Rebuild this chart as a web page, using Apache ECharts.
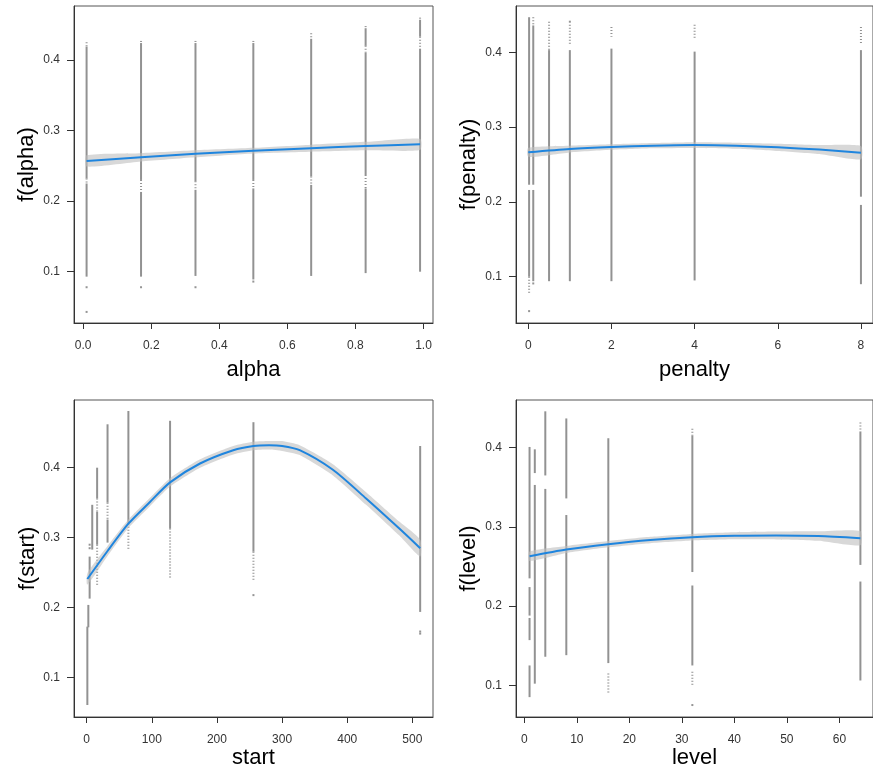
<!DOCTYPE html>
<html><head><meta charset="utf-8">
<script src="https://cdn.jsdelivr.net/npm/echarts@6/dist/echarts.min.js"></script>
<style>html,body{margin:0;padding:0;background:#fff}#c{width:873px;height:772px}</style>
</head><body><div id="c"></div>
<script>
// ---------- Panel 1: alpha ----------
const alphaDense = [
  [0.01,0.419,0.232],[0.01,0.225,0.093],
  [0.17,0.424,0.230],[0.17,0.213,0.093],
  [0.33,0.424,0.228],[0.33,0.216,0.094],
  [0.50,0.424,0.230],[0.50,0.218,0.089],
  [0.67,0.430,0.235],[0.67,0.223,0.094],
  [0.83,0.445,0.420],[0.83,0.410,0.237],[0.83,0.218,0.098],
  [0.99,0.457,0.433],[0.99,0.416,0.100]
];
const alphaSparse = [
  [0.01,0.425,0.419],[0.01,0.232,0.225],
  [0.17,0.427,0.424],[0.17,0.230,0.213],
  [0.33,0.427,0.424],[0.33,0.228,0.216],
  [0.50,0.427,0.424],[0.50,0.230,0.218],
  [0.67,0.438,0.430],[0.67,0.235,0.223],
  [0.83,0.448,0.445],[0.83,0.420,0.410],[0.83,0.237,0.218],
  [0.99,0.460,0.457],[0.99,0.433,0.416]
];
const alphaIsolated = [[0.01,0.078],[0.01,0.043],[0.17,0.078],[0.33,0.078],[0.50,0.086]];
const alphaFitX  = [0.01,0.17,0.33,0.50,0.67,0.83,0.99];
const alphaFitY  = [0.257,0.262,0.267,0.2715,0.275,0.278,0.2805];
const alphaFitLo = [0.249,0.256,0.262,0.2675,0.270,0.272,0.2725];
const alphaFitHi = [0.265,0.268,0.272,0.2755,0.280,0.284,0.2885];
const alphaTicksX = [0,0.2,0.4,0.6,0.8,1.0];

// ---------- Panel 2: penalty ----------
const penaltyDense = [
  [0.02,0.447,0.223],[0.02,0.216,0.100],
  [0.12,0.436,0.223],[0.12,0.216,0.094],
  [0.5,0.403,0.094],
  [1,0.403,0.094],
  [2,0.405,0.094],
  [4,0.401,0.095],
  [8,0.403,0.207],[8,0.196,0.090]
];
const penaltySparse = [
  [0.02,0.100,0.076],
  [0.12,0.447,0.436],
  [0.5,0.441,0.403],
  [1,0.437,0.410],
  [2,0.434,0.421],
  [4,0.437,0.419],
  [8,0.434,0.412]
];
const penaltyIsolated = [[0.02,0.054],[1,0.441],[0.12,0.091]];
const penaltyFitX  = [0,1,2,3,4,5,6,7,8];
const penaltyFitY  = [0.2663,0.2707,0.2734,0.2752,0.2760,0.2752,0.2730,0.2700,0.2658];
const penaltyFitLo = [0.2603,0.2662,0.2697,0.2717,0.2722,0.2712,0.2682,0.2640,0.2568];
const penaltyFitHi = [0.2723,0.2752,0.2771,0.2787,0.2798,0.2792,0.2778,0.2760,0.2748];
const penaltyTicksX = [0,2,4,6,8];

// ---------- Panel 3: start ----------
const startDense = [
  [1,0.173,0.061],
  [2.5,0.204,0.172],
  [4.5,0.273,0.213],
  [8.5,0.347,0.283],
  [16,0.400,0.356],[16,0.337,0.290],
  [32,0.462,0.350],[32,0.326,0.293],
  [64,0.481,0.320],
  [128,0.467,0.313],
  [256,0.465,0.280],
  [512,0.431,0.194]
];
const startSparse = [
  [16,0.356,0.337],[16,0.290,0.232],
  [32,0.350,0.326],
  [64,0.320,0.283],
  [128,0.313,0.242],
  [256,0.280,0.240]
];
const startIsolated = [[4.5,0.285],[4.5,0.290],[256,0.218],[512,0.166],[512,0.163]];
const startFitX  = [1,32,64,96,128,174,225,256,280,300,327,378,429,480,512];
const startFitY  = [0.241,0.281,0.320,0.350,0.379,0.406,0.425,0.431,0.432,0.431,0.425,0.397,0.356,0.313,0.285];
const startFitLo = [0.233,0.274,0.314,0.344,0.373,0.400,0.419,0.425,0.426,0.424,0.418,0.389,0.347,0.303,0.273];
const startFitHi = [0.249,0.288,0.326,0.356,0.385,0.412,0.431,0.437,0.438,0.438,0.432,0.405,0.365,0.323,0.297];
const startTicksX = [0,100,200,300,400,500];

// ---------- Panel 4: level ----------
const levelDense = [
  [1,0.401,0.235],[1,0.224,0.188],[1,0.185,0.157],[1,0.125,0.085],
  [2,0.398,0.368],[2,0.353,0.102],
  [4,0.446,0.365],[4,0.348,0.136],
  [8,0.437,0.336],[8,0.315,0.138],
  [16,0.412,0.128],
  [32,0.415,0.243],[32,0.226,0.125],
  [64,0.420,0.252],[64,0.231,0.106]
];
const levelSparse = [
  [16,0.115,0.090],
  [32,0.424,0.415],[32,0.117,0.098],
  [64,0.432,0.420]
];
const levelIsolated = [[32,0.075]];
const levelFitX  = [1,8,16,24,32,40,48,56,64];
const levelFitY  = [0.263,0.2715,0.2782,0.2835,0.287,0.2888,0.2892,0.2885,0.2858];
const levelFitLo = [0.257,0.2670,0.2742,0.2795,0.2828,0.2843,0.2842,0.2825,0.2768];
const levelFitHi = [0.269,0.2760,0.2822,0.2875,0.2912,0.2933,0.2942,0.2945,0.2948];
const levelTicksX = [0,10,20,30,40,50,60];

const yTicks = [0.1,0.2,0.3,0.4];

const panels = [
  {name:'alpha', dense:alphaDense, sparse:alphaSparse, iso:alphaIsolated, fx:alphaFitX, fy:alphaFitY, lo:alphaFitLo, hi:alphaFitHi, ticks:alphaTicksX, fmt:v=>v.toFixed(1),
   grid:{left:74,top:6,width:359,height:317}, xmin:-0.027, xmax:1.028, ymin:0.0273, ymax:0.4765, nameGap:36, yNameGap:36},
  {name:'penalty', dense:penaltyDense, sparse:penaltySparse, iso:penaltyIsolated, fx:penaltyFitX, fy:penaltyFitY, lo:penaltyFitLo, hi:penaltyFitHi, ticks:penaltyTicksX, fmt:v=>String(v),
   grid:{left:516,top:6,width:358,height:317}, xmin:-0.295, xmax:8.29, ymin:0.0381, ymax:0.462, nameGap:36, yNameGap:36},
  {name:'start', dense:startDense, sparse:startSparse, iso:startIsolated, fx:startFitX, fy:startFitY, lo:startFitLo, hi:startFitHi, ticks:startTicksX, fmt:v=>String(v),
   grid:{left:74,top:400,width:359,height:317}, xmin:-19.5, xmax:531.7, ymin:0.0439, ymax:0.4967, nameGap:30, yNameGap:34},
  {name:'level', dense:levelDense, sparse:levelSparse, iso:levelIsolated, fx:levelFitX, fy:levelFitY, lo:levelFitLo, hi:levelFitHi, ticks:levelTicksX, fmt:v=>String(v),
   grid:{left:516,top:400,width:358,height:317}, xmin:-1.58, xmax:66.4, ymin:0.0599, ymax:0.4603, nameGap:30, yNameGap:36}
];

const FONT = 'Liberation Sans, Arial, sans-serif';
function segRenderer(dashed){
  return function(params, api){
    const p0 = api.coord([api.value(0), api.value(1)]);
    const p1 = api.coord([api.value(0), api.value(2)]);
    return {type:'line', shape:{x1:p0[0],y1:p0[1],x2:p1[0],y2:p1[1]},
      style:{stroke:'#929292', lineWidth:2, lineDash: dashed ? [1,2] : null}};
  };
}
function bandRenderer(p){
  return function(params, api){
    if (params.dataIndex !== 0) return null;
    const upper = p.fx.map((x,k)=>api.coord([x,p.hi[k]]));
    const lower = p.fx.map((x,k)=>api.coord([x,p.lo[k]])).reverse();
    return {type:'polygon', shape:{points:upper.concat(lower), smooth:0.2},
      style:{fill:'rgba(190,190,190,0.6)', stroke:null}};
  };
}

const grids=[], xAxes=[], yAxes=[], series=[];
panels.forEach((p,i)=>{
  grids.push(Object.assign({show:true, borderColor:'#555', borderWidth:1, backgroundColor:'transparent'}, p.grid));
  xAxes.push({type:'value', gridIndex:i, min:p.xmin, max:p.xmax,
    axisLine:{show:true,onZero:false,lineStyle:{color:'#333',width:1}},
    axisTick:{show:true,length:6,customValues:p.ticks,lineStyle:{color:'#333'}},
    axisLabel:{customValues:p.ticks,formatter:p.fmt,color:'#333',fontSize:12,margin:17,fontFamily:FONT},
    splitLine:{show:false},
    name:p.name, nameLocation:'middle', nameGap:p.nameGap,
    nameTextStyle:{fontSize:22,color:'#000',fontFamily:FONT}});
  yAxes.push({type:'value', gridIndex:i, min:p.ymin, max:p.ymax,
    axisLine:{show:true,onZero:false,lineStyle:{color:'#333',width:1}},
    axisTick:{show:true,length:7,customValues:yTicks,lineStyle:{color:'#333'}},
    axisLabel:{customValues:yTicks,formatter:v=>v.toFixed(1),color:'#333',fontSize:12,margin:14,fontFamily:FONT},
    splitLine:{show:false},
    name:'f('+p.name+')', nameLocation:'middle', nameGap:p.yNameGap, nameRotate:90,
    nameTextStyle:{fontSize:22,color:'#000',fontFamily:FONT}});
  series.push({type:'custom', xAxisIndex:i, yAxisIndex:i, renderItem:segRenderer(false), data:p.dense, encode:{x:0,y:[1,2]}, silent:true, clip:true});
  series.push({type:'custom', xAxisIndex:i, yAxisIndex:i, renderItem:segRenderer(true), data:p.sparse, encode:{x:0,y:[1,2]}, silent:true, clip:true});
  series.push({type:'scatter', xAxisIndex:i, yAxisIndex:i, data:p.iso, symbol:'rect', symbolSize:2, itemStyle:{color:'#7a7a7a'}, silent:true});
  series.push({type:'custom', xAxisIndex:i, yAxisIndex:i, renderItem:bandRenderer(p), data:p.fx.map((x,k)=>[x,p.lo[k],p.hi[k]]), encode:{x:0,y:[1,2]}, silent:true, clip:true});
  series.push({type:'line', xAxisIndex:i, yAxisIndex:i, data:p.fx.map((x,k)=>[x,p.fy[k]]), showSymbol:false, smooth:0.25, lineStyle:{color:'#1f85de',width:2}, silent:true});
});

const chart = echarts.init(document.getElementById('c'), null, {renderer:'canvas'});
chart.setOption({animation:false, backgroundColor:'#fff', grid:grids, xAxis:xAxes, yAxis:yAxes, series:series});
</script></body></html>
